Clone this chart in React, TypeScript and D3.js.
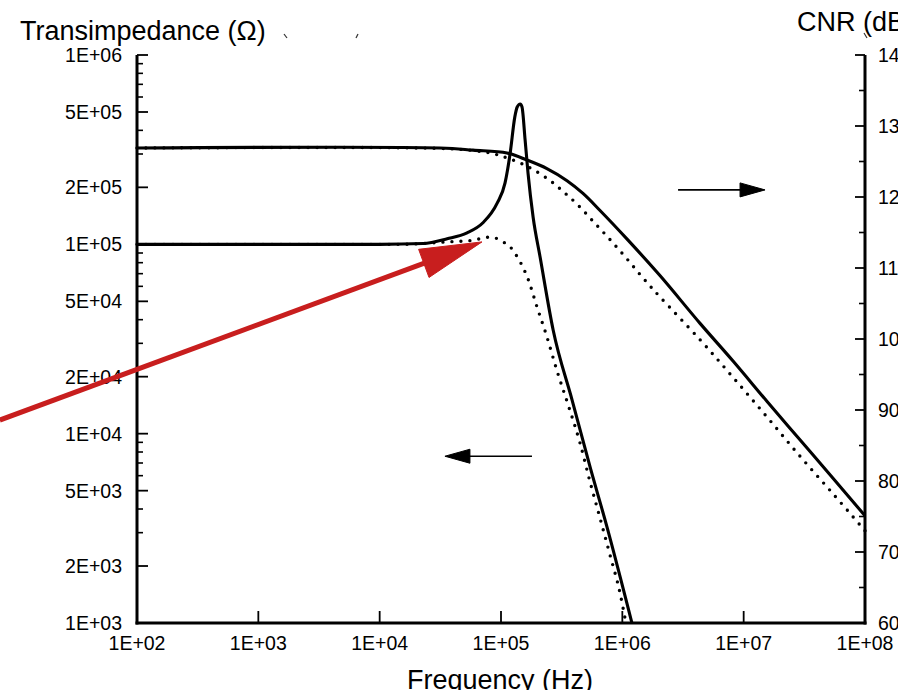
import { useEffect, useRef } from "react";
import * as d3 from "d3";

// axis ticks
const freqTicks = [1e2, 1e3, 1e4, 1e5, 1e6, 1e7, 1e8];
const freqLabels = ["1E+02", "1E+03", "1E+04", "1E+05", "1E+06", "1E+07", "1E+08"];
const zTicks = [1e6, 5e5, 2e5, 1e5, 5e4, 2e4, 1e4, 5e3, 2e3, 1e3];
const zLabels = ["1E+06", "5E+05", "2E+05", "1E+05", "5E+04", "2E+04", "1E+04", "5E+03", "2E+03", "1E+03"];
const cnrTicks = [60, 70, 80, 90, 100, 110, 120, 130, 140];
const cnrLabels = ["60", "70", "80", "90", "100", "110", "120", "130", "140"];

// transimpedance (ohm), solid
const zSolidFreq = [100, 1e4, 2.28e4, 3.6e4, 5.25e4, 7.1e4, 9.3e4, 1.08e5, 1.19e5, 1.3e5, 1.36e5, 1.44e5, 1.49e5, 1.58e5, 1.67e5, 1.84e5, 2.1e5, 2.69e5, 3.85e5, 5.42e5, 7.48e5, 1.2e6];
const zSolidVal = [1e5, 1e5, 1.01e5, 1.07e5, 1.15e5, 1.3e5, 1.65e5, 2.11e5, 3.03e5, 4.71e5, 5.31e5, 5.51e5, 5.31e5, 3.56e5, 2.38e5, 1.39e5, 8.57e4, 3.53e4, 1.51e4, 6.67e3, 3.21e3, 1e3];

// transimpedance (ohm), dotted
const zDotFreq = [100, 1.47e4, 3.59e4, 5.87e4, 7.67e4, 8.93e4, 1.04e5, 1.19e5, 1.3e5, 1.44e5, 1.67e5, 1.98e5, 2.35e5, 2.9e5, 3.64e5, 4.48e5, 5.42e5, 6.55e5, 7.91e5, 9.57e5, 1.07e6];
const zDotVal = [1e5, 1e5, 1.03e5, 1.05e5, 1.09e5, 1.08e5, 1.03e5, 9.7e4, 9.0e4, 8.07e4, 6.56e4, 4.67e4, 3.36e4, 2.14e4, 1.37e4, 8.93e3, 5.56e3, 3.58e3, 2.29e3, 1.44e3, 1e3];

// CNR (dB), solid
const cnrSolidFreq = [100, 3.14e4, 5.88e4, 1.12e5, 1.64e5, 2.39e5, 3.5e5, 4.74e5, 6.55e5, 1.09e6, 2.05e6, 4.37e6, 8.17e6, 1.56e7, 2.91e7, 5.45e7, 1e8];
const cnrSolidVal = [126.9, 126.9, 126.6, 126.2, 125.2, 124.0, 122.3, 120.5, 118.1, 114.1, 108.9, 102.2, 96.9, 91.2, 85.8, 80.4, 75.1];

// CNR (dB), dotted
const cnrDotFreq = [100, 2.15e4, 5.56e4, 8.6e4, 1.12e5, 1.44e5, 1.91e5, 2.54e5, 3.24e5, 4.23e5, 5.73e5, 7.91e5, 1.09e6, 1.48e6, 2.05e6, 4.37e6, 8.17e6, 1.56e7, 2.91e7, 5.45e7, 1e8];
const cnrDotVal = [126.9, 126.9, 126.6, 126.1, 125.5, 124.8, 123.7, 122.3, 120.8, 119.0, 116.6, 114.0, 111.3, 108.6, 105.9, 99.9, 94.6, 89.0, 83.5, 78.2, 73.0];

// annotation arrows, in data units
const redArrowFrom = [7.4, 1.18e4];
const redArrowTo = [6.97e4, 1.03e5];
const cnrArrowFrom = [2.88e6, 121];
const cnrArrowTo = [1.5e7, 121];
const zArrowFrom = [1.8e5, 7.6e3];
const zArrowTo = [3.45e4, 7.6e3];

const FONT = "'Liberation Sans', Arial, Helvetica, sans-serif";

function TransimpedanceChart() {
  const svgRef = useRef<SVGSVGElement>(null);

  useEffect(() => {
    const svg = d3.select(svgRef.current);
    svg.selectAll("*").remove();

    const x = d3.scaleLog().domain([1e2, 1e8]).range([137, 865]);
    const yZ = d3.scaleLog().domain([1e3, 1e6]).range([623, 55]);
    const yC = d3.scaleLinear().domain([60, 140]).range([623, 55]);

    const lineZ = d3
      .line<[number, number]>()
      .x((d) => x(d[0]))
      .y((d) => yZ(d[1]))
      .curve(d3.curveMonotoneX);
    const lineC = d3
      .line<[number, number]>()
      .x((d) => x(d[0]))
      .y((d) => yC(d[1]))
      .curve(d3.curveCatmullRom.alpha(0.5));

    // the source picture is cut off a few pixels before its right edge
    svg.append("defs").append("clipPath").attr("id", "pageClip")
      .append("rect").attr("x", 0).attr("y", 0).attr("width", 898).attr("height", 690);
    const g = svg.append("g").attr("clip-path", "url(#pageClip)");

    // curves
    const solid = (p: string | null) =>
      g.append("path").attr("d", p).attr("fill", "none").attr("stroke", "#000").attr("stroke-width", 3.1).attr("stroke-linejoin", "round");
    const dotted = (p: string | null) =>
      g.append("path").attr("d", p).attr("fill", "none").attr("stroke", "#000").attr("stroke-width", 3.4)
        .attr("stroke-linecap", "round").attr("stroke-dasharray", "0 9");

    dotted(lineZ(d3.zip(zDotFreq, zDotVal) as [number, number][]));
    dotted(lineC(d3.zip(cnrDotFreq, cnrDotVal) as [number, number][]));
    solid(lineZ(d3.zip(zSolidFreq, zSolidVal) as [number, number][]));
    solid(lineC(d3.zip(cnrSolidFreq, cnrSolidVal) as [number, number][]));

    // left axis
    const [yTop, yBot] = [yZ(1e6), yZ(1e3)];
    g.append("line").attr("x1", 137).attr("x2", 137).attr("y1", yTop).attr("y2", yBot + 1.5)
      .attr("stroke", "#000").attr("stroke-width", 3);
    const minors: number[] = [];
    [1e3, 1e4, 1e5].forEach((dec) => {
      [3, 4, 6, 7, 8, 9].forEach((m) => minors.push(dec * m));
    });
    g.selectAll(".zminor").data(minors).enter().append("line")
      .attr("x1", 137).attr("x2", 143).attr("y1", (d) => yZ(d)).attr("y2", (d) => yZ(d))
      .attr("stroke", "#000").attr("stroke-width", 1.6);
    g.selectAll(".zmajor").data(zTicks).enter().append("line")
      .attr("x1", 137).attr("x2", 148).attr("y1", (d) => yZ(d)).attr("y2", (d) => yZ(d))
      .attr("stroke", "#000").attr("stroke-width", 1.8);
    g.selectAll(".zlabel").data(zTicks).enter().append("text")
      .attr("x", 122).attr("y", (d) => yZ(d)).attr("dy", "0.36em")
      .attr("text-anchor", "end").style("font-family", FONT).style("font-size", "19.5px")
      .text((d, i) => zLabels[i]);

    // right axis
    g.append("line").attr("x1", 865).attr("x2", 865).attr("y1", yC(140)).attr("y2", yC(60) + 1.5)
      .attr("stroke", "#000").attr("stroke-width", 3);
    g.selectAll(".cminor").data(cnrTicks.slice(0, -1).map((d) => d + 5)).enter().append("line")
      .attr("x1", 859).attr("x2", 865).attr("y1", (d) => yC(d)).attr("y2", (d) => yC(d))
      .attr("stroke", "#000").attr("stroke-width", 1.6);
    g.selectAll(".cmajor").data(cnrTicks).enter().append("line")
      .attr("x1", 855).attr("x2", 865).attr("y1", (d) => yC(d)).attr("y2", (d) => yC(d))
      .attr("stroke", "#000").attr("stroke-width", 1.8);
    g.selectAll(".clabel").data(cnrTicks).enter().append("text")
      .attr("x", 878).attr("y", (d) => yC(d)).attr("dy", "0.36em")
      .style("font-family", FONT).style("font-size", "19.5px")
      .text((d, i) => cnrLabels[i]);

    // bottom axis
    g.append("line").attr("x1", 135.5).attr("x2", 866.5).attr("y1", yBot).attr("y2", yBot)
      .attr("stroke", "#000").attr("stroke-width", 3);
    g.selectAll(".fmajor").data(freqTicks).enter().append("line")
      .attr("x1", (d) => x(d)).attr("x2", (d) => x(d)).attr("y1", yBot - 12).attr("y2", yBot)
      .attr("stroke", "#000").attr("stroke-width", 1.8);
    g.selectAll(".flabel").data(freqTicks).enter().append("text")
      .attr("x", (d) => x(d)).attr("y", 650)
      .attr("text-anchor", "middle").style("font-family", FONT).style("font-size", "19.5px")
      .text((d, i) => freqLabels[i]);

    // titles
    g.append("text").attr("x", 20).attr("y", 40).style("font-family", FONT).style("font-size", "27px")
      .text("Transimpedance (Ω)");
    g.append("text").attr("x", 797).attr("y", 31).style("font-family", FONT).style("font-size", "27px")
      .text("CNR (dB)");
    g.append("text").attr("x", 500).attr("y", 689).attr("text-anchor", "middle")
      .style("font-family", FONT).style("font-size", "27px").text("Frequency (Hz)");

    // small stray marks near the titles
    [[284, 34, 287, 38], [358, 34, 356, 38], [864, 33, 867, 38]].forEach(([a, b, c, d]) => {
      g.append("line").attr("x1", a).attr("y1", b).attr("x2", c).attr("y2", d)
        .attr("stroke", "#333").attr("stroke-width", 1.2);
    });

    // arrow helper
    function arrow(p0: number[], p1: number[], color: string, width: number, headLen: number, headHalf: number) {
      const dx = p1[0] - p0[0];
      const dy = p1[1] - p0[1];
      const len = Math.hypot(dx, dy);
      const ux = dx / len;
      const uy = dy / len;
      const bx = p1[0] - ux * headLen;
      const by = p1[1] - uy * headLen;
      g.append("line").attr("x1", p0[0]).attr("y1", p0[1]).attr("x2", bx + ux * 2).attr("y2", by + uy * 2)
        .attr("stroke", color).attr("stroke-width", width);
      const pts = [
        [p1[0], p1[1]],
        [bx - uy * headHalf, by + ux * headHalf],
        [bx + uy * headHalf, by - ux * headHalf],
      ];
      g.append("polygon").attr("points", pts.map((p) => p.join(",")).join(" "))
        .attr("fill", color).attr("stroke", color).attr("stroke-width", 1).attr("stroke-linejoin", "round");
    }

    arrow([x(cnrArrowFrom[0]), yC(cnrArrowFrom[1])], [x(cnrArrowTo[0]), yC(cnrArrowTo[1])], "#000", 1.6, 25, 7);
    arrow([x(zArrowFrom[0]), yZ(zArrowFrom[1])], [x(zArrowTo[0]), yZ(zArrowTo[1])], "#000", 1.6, 25, 7);
    arrow([x(redArrowFrom[0]), yZ(redArrowFrom[1])], [x(redArrowTo[0]), yZ(redArrowTo[1])], "#c81e1e", 5, 62, 15);
  }, []);

  return (
    <svg
      ref={svgRef}
      width={905}
      height={690}
      style={{ position: "absolute", left: 0, top: 0, background: "#fff", display: "block" }}
    />
  );
}

export default function App() {
  return <TransimpedanceChart />;
}
